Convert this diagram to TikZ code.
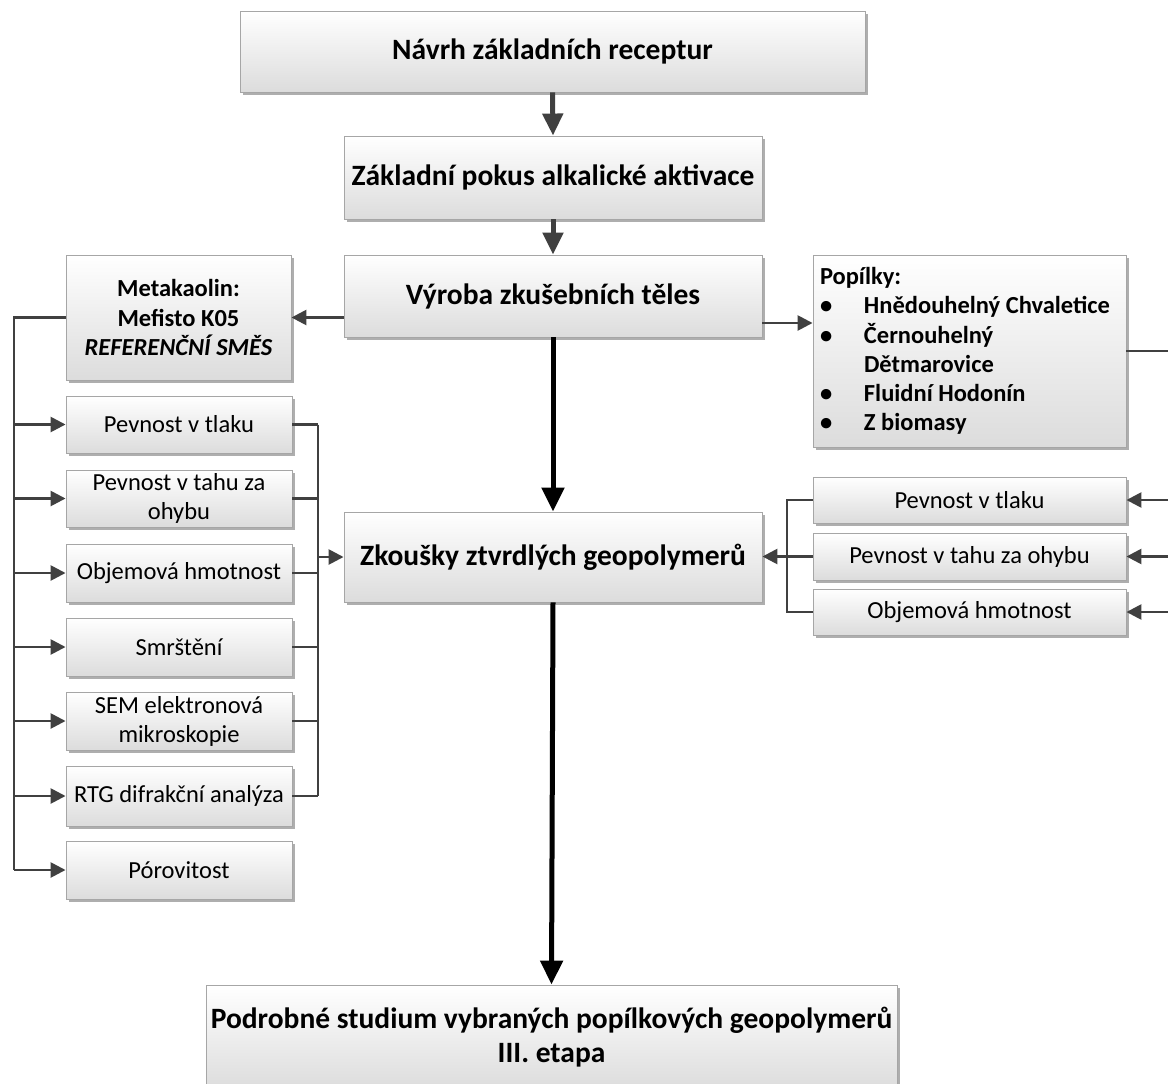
\documentclass[tikz,border=0pt]{standalone}
\usepackage{fontspec}
\setmainfont{Carlito}
\usetikzlibrary{arrows.meta,shadows}
\definecolor{boxborder}{HTML}{A6A6A6}
\definecolor{boxbot}{HTML}{DCDCDC}
\definecolor{shadowc}{HTML}{9A9A9A}
\definecolor{connc}{HTML}{404040}
\tikzset{
  box/.style={draw=boxborder, line width=0.9pt, top color=white, bottom color=boxbot,
    drop shadow={shadow xshift=3pt, shadow yshift=-3pt, fill=shadowc, opacity=0.8},
    inner sep=0pt, align=center},
  bigtxt/.style={font=\fontsize{29.5}{34}\selectfont\bfseries},
  midtxt/.style={font=\fontsize{24.5}{29.2}\selectfont\bfseries},
  smtxt/.style={font=\fontsize{24.5}{29}\selectfont},
  conn/.style={draw=connc, line width=2.6pt},
  connarr/.style={conn, -{Triangle[length=15pt,width=15pt]}},
  grayarr/.style={draw=connc, line width=5pt, -{Triangle[length=22pt,width=20pt]}},
  blackarr/.style={draw=black, line width=5pt, -{Triangle[length=24pt,width=22pt]}},
}
\begin{document}
\begin{tikzpicture}[x=1pt,y=-1pt]
\clip (0,0) rectangle (1168,1084);
\fill[white] (0,0) rectangle (1168,1084);

% main column
\node[box,bigtxt,minimum width=625pt,minimum height=81pt] (navrh) at (552.5,51.5) {Návrh základních receptur};
\node[box,bigtxt,minimum width=418pt,minimum height=83pt] (zaklad) at (553,177.5) {Základní pokus alkalické aktivace};
\node[box,bigtxt,minimum width=418pt,minimum height=82pt] (vyroba) at (553,296) {Výroba zkušebních těles};
\node[box,bigtxt,minimum width=418pt,minimum height=90pt] (zkousky) at (553,557) {Zkoušky ztvrdlých geopolymerů};
\node[box,bigtxt,minimum width=691pt,minimum height=105pt] (studium) at (551.5,1037.5) {Podrobné studium vybraných popílkových geopolymerů\\III. etapa};

% side boxes
\node[box,midtxt,minimum width=225pt,minimum height=125pt] (meta) at (178.5,317.5) {Metakaolin:\\Mefisto K05\\\textit{REFERENČNÍ SMĚS}};
\node[box,midtxt,minimum width=313pt,minimum height=192pt,text width=299pt,align=flush left] (popilky) at (969.5,351)
  {Popílky:\\
   \makebox[44pt][l]{\textbullet}Hnědouhelný Chvaletice\\
   \makebox[44pt][l]{\textbullet}Černouhelný\\
   \makebox[44pt][l]{}Dětmarovice\\
   \makebox[44pt][l]{\textbullet}Fluidní Hodonín\\
   \makebox[44pt][l]{\textbullet}Z biomasy};

% left test boxes
\node[box,smtxt,minimum width=226pt,minimum height=57pt] (l1) at (179,424.5) {Pevnost v tlaku};
\node[box,smtxt,minimum width=226pt,minimum height=57pt] (l2) at (179,498.5) {Pevnost v tahu za\\ohybu};
\node[box,smtxt,minimum width=226pt,minimum height=58pt] (l3) at (179,573) {Objemová hmotnost};
\node[box,smtxt,minimum width=226pt,minimum height=58pt] (l4) at (179,647) {Smrštění};
\node[box,smtxt,minimum width=226pt,minimum height=58pt] (l5) at (179,721) {SEM elektronová\\mikroskopie};
\node[box,smtxt,minimum width=226pt,minimum height=60pt] (l6) at (179,796) {RTG difrakční analýza};
\node[box,smtxt,minimum width=226pt,minimum height=58pt] (l7) at (179,870) {Pórovitost};

% right test boxes
\node[box,smtxt,minimum width=313pt,minimum height=46pt] (r1) at (969.5,500) {Pevnost v tlaku};
\node[box,smtxt,minimum width=313pt,minimum height=47pt] (r2) at (969.5,556.5) {Pevnost v tahu za ohybu};
\node[box,smtxt,minimum width=313pt,minimum height=46pt] (r3) at (969.5,612) {Objemová hmotnost};

% main arrows
\draw[grayarr] (navrh.south) -- (zaklad.north);
\draw[grayarr] (zaklad.south) -- (vyroba.north);
\draw[blackarr] (vyroba.south) -- (zkousky.north);
\draw[blackarr] (zkousky.south) -- (studium.north);

% vyroba to side boxes
\draw[connarr] (vyroba.west |- meta.east) -- (meta.east);
\coordinate (pin) at (762,323);
\draw[connarr] (vyroba.east |- pin) -- (popilky.west |- pin);

% left trunk
\coordinate (lt) at (14,317.5);
\draw[conn] (meta.west) -- (lt) -- (lt |- l7.west);
\foreach \b in {l1,l2,l3,l4,l5,l6,l7}
  \draw[connarr] (lt |- \b.west) -- (\b.west);

% left collector
\coordinate (rc) at (318,557);
\foreach \b in {l1,l2,l3,l4,l5,l6}
  \draw[conn] (\b.east) -- (rc |- \b.east);
\draw[conn] (rc |- l1.east) -- (rc |- l6.east);
\draw[connarr] (rc |- zkousky.west) -- (zkousky.west);

% right collector
\coordinate (lc) at (787,557);
\draw[conn] (r1.west) -- (lc |- r1.west) -- (lc |- r3.west) -- (r3.west);
\draw[connarr] (r2.west) -- (zkousky.east |- r2.west);

% popilky trunk to the right (off the page)
\coordinate (ext) at (1182,351);
\draw[conn] (popilky.east) -- (ext) -- (ext |- r3.east);
\foreach \b in {r1,r2,r3}
  \draw[connarr] (ext |- \b.east) -- (\b.east);
\end{tikzpicture}
\end{document}
